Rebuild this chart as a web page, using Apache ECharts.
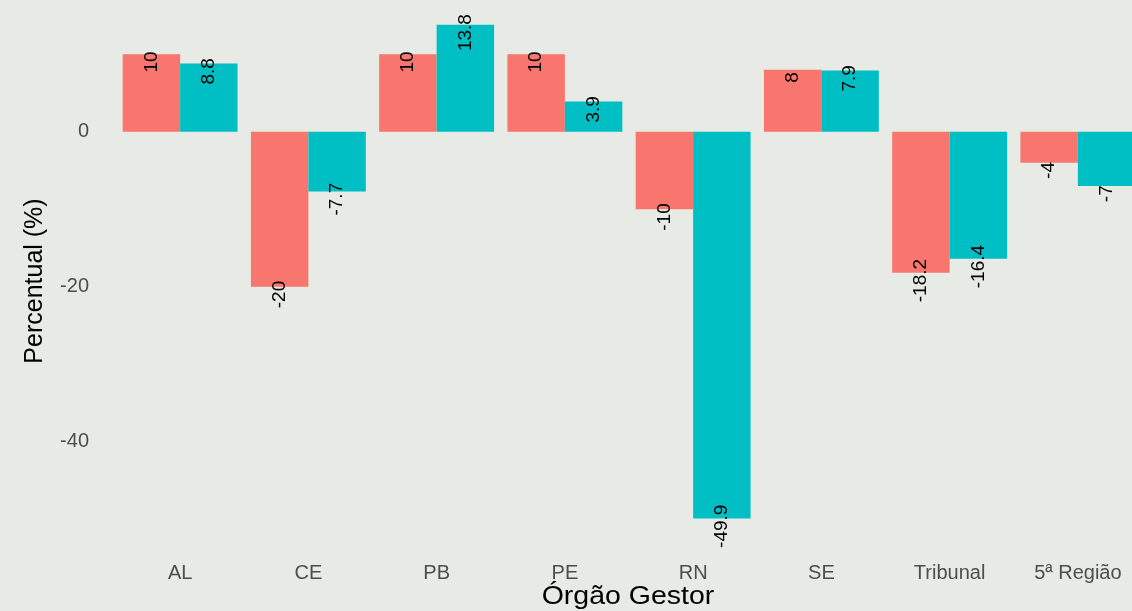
<!DOCTYPE html>
<html>
<head>
<meta charset="utf-8">
<script src="https://cdn.jsdelivr.net/npm/echarts@6/dist/echarts.min.js"></script>
<style>
  html, body { margin: 0; padding: 0; background: #e8ebe5; overflow: hidden; }
  #main { width: 1142px; height: 611px; }
</style>
</head>
<body>
<div id="main"></div>
<script>
var categories = ['AL', 'CE', 'PB', 'PE', 'RN', 'SE', 'Tribunal', '5ª Região'];
var serieA = [10, -20, 10, 10, -10, 8, -18.2, -4];
var serieB = [8.8, -7.7, 13.8, 3.9, -49.9, 7.9, -16.4, -7];
var yTicks = [-40, -20, 0];

var chart = echarts.init(document.getElementById('main'));

// rótulo rotacionado, centrado um pouco abaixo da ponta da barra
function labelled(values) {
    return values.map(function (v) {
        return {
            value: v,
            label: {
                position: v >= 0 ? 'insideTop' : 'bottom',
                distance: 7.75,
                align: 'center',
                verticalAlign: 'middle'
            }
        };
    });
}

var labelStyle = {
    show: true,
    rotate: 90,
    color: '#000',
    fontSize: 19,
    fontFamily: 'Liberation Sans, Arial, sans-serif'
};

var option = {
    backgroundColor: '#e8ebe5',
    animation: false,
    grid: {
        left: 116,
        right: 0,
        top: 0,
        height: 542.5
    },
    xAxis: {
        type: 'category',
        data: categories,
        axisLine: { show: false },
        axisTick: { show: false },
        axisLabel: {
            margin: 21,
            color: '#4d4d4d',
            fontSize: 20,
            fontFamily: 'Liberation Sans, Arial, sans-serif'
        }
    },
    yAxis: {
        type: 'value',
        min: -53,
        max: 17,
        axisLine: { show: false },
        axisTick: { show: false },
        splitLine: { show: false },
        axisLabel: {
            margin: 27,
            color: '#4d4d4d',
            fontSize: 20,
            fontFamily: 'Liberation Sans, Arial, sans-serif',
            formatter: function (v) {
                return yTicks.indexOf(v) >= 0 ? String(v) : '';
            }
        }
    },
    graphic: [
        {
            type: 'text',
            x: 35,
            y: 281,
            rotation: Math.PI / 2,
            style: {
                text: 'Percentual (%)',
                fill: '#000',
                fontSize: 25,
                fontFamily: 'Liberation Sans, Arial, sans-serif',
                align: 'center',
                verticalAlign: 'middle'
            }
        },
        {
            type: 'text',
            x: 628,
            y: 597,
            scaleX: 1.14,
            style: {
                text: 'Órgão Gestor',
                fill: '#000',
                fontSize: 25,
                fontFamily: 'Liberation Sans, Arial, sans-serif',
                align: 'center',
                verticalAlign: 'middle'
            }
        }
    ],
    series: [
        {
            name: 'A',
            type: 'bar',
            data: labelled(serieA),
            barGap: '0%',
            barCategoryGap: '10.4%',
            itemStyle: { color: '#F8766D' },
            label: labelStyle
        },
        {
            name: 'B',
            type: 'bar',
            data: labelled(serieB),
            barGap: '0%',
            barCategoryGap: '10.4%',
            itemStyle: { color: '#00BFC4' },
            label: labelStyle
        }
    ]
};
chart.setOption(option);
</script>
</body>
</html>
